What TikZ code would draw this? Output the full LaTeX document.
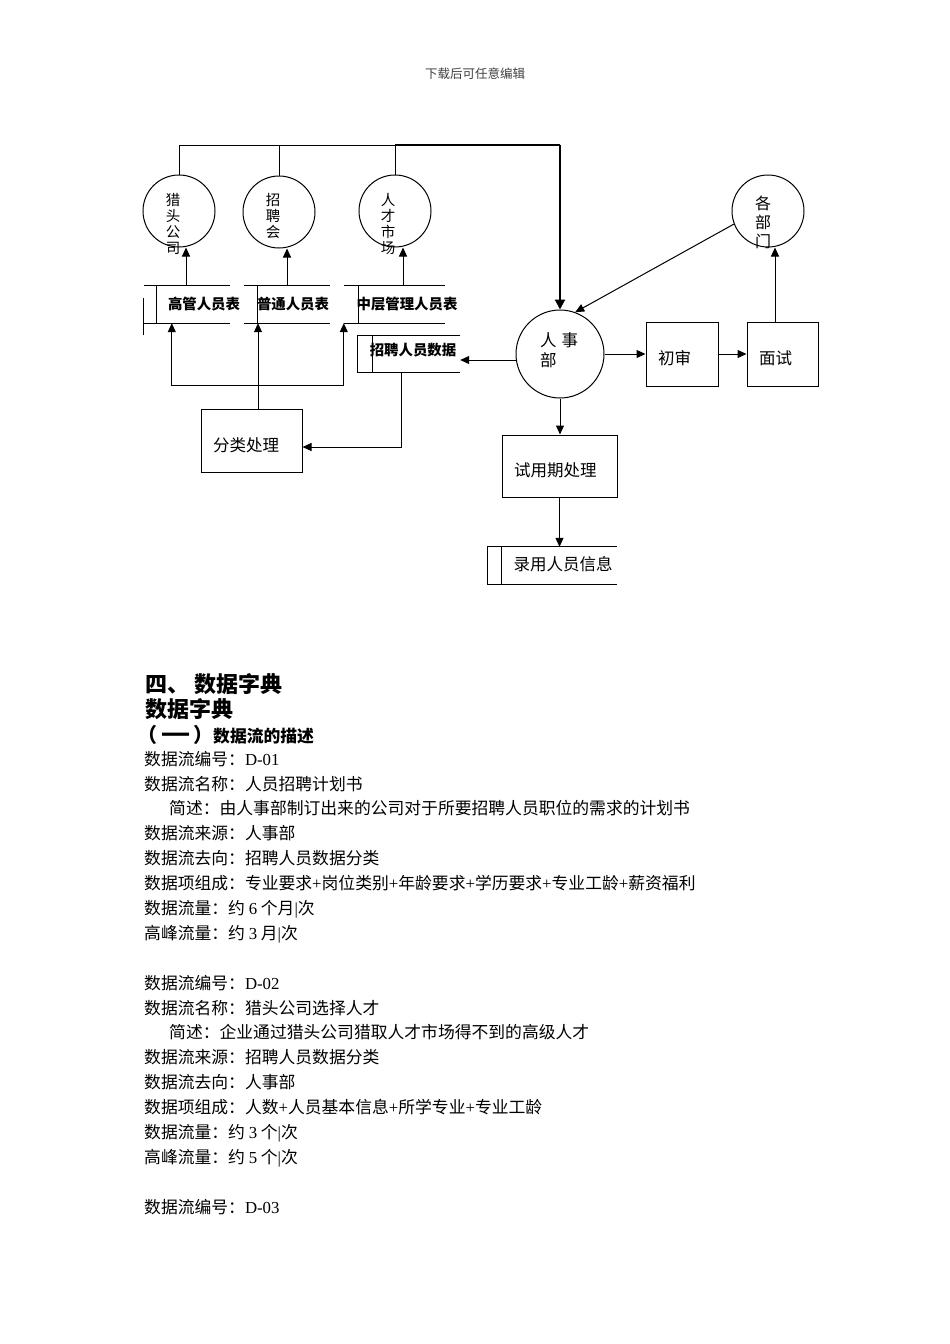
\documentclass[tikz,border=0pt]{standalone}
\usepackage{fontspec}
\usepackage{graphicx}
\setmainfont{Liberation Serif}
\newfontfamily\cjk{Noto Sans CJK SC}
\newfontfamily\tnr{Liberation Serif}
\newcommand\plusx{{\tnr +}}
\newcommand\numx[1]{{\tnr #1}}
\usetikzlibrary{arrows.meta,calc}
\begin{document}
\begin{tikzpicture}[x=1pt,y=-1pt,
  every node/.style={inner sep=0pt},
  ln/.style={line width=1pt, black},
  arr/.style={ln, -{Triangle[length=9pt,width=8pt]}},
  thk/.style={line width=2pt, black},
  circ/.style={circle, draw, line width=1pt, minimum size=72pt},
  ctext/.style={font=\cjk\fontsize{14.5}{16}\selectfont, align=center},
  proc/.style={draw, line width=1pt, rectangle, align=left, inner xsep=12pt, inner ysep=0pt,
    font=\cjk\fontsize{16.5}{20}\selectfont, text height=21pt, text depth=0pt},
  sbox/.style={rectangle, inner sep=0pt},
  stext/.style={font=\cjk\fontsize{14.4}{17}\selectfont},
  body/.style={anchor=west, font=\cjk\fontsize{16.8}{20}\selectfont, text height=14.8pt, text depth=2pt},
  head/.style={anchor=west, font=\cjk\bfseries\fontsize{22}{26}\selectfont, text height=19.4pt, text depth=2.6pt},
  subhead/.style={anchor=west, font=\cjk\bfseries\fontsize{16.8}{20}\selectfont, text height=14.8pt, text depth=2pt}
]
\fill[white] (0,0) rectangle (950,1344);
\useasboundingbox (0,0) rectangle (950,1344);

% header
\node[font=\cjk\fontsize{12.5}{15}\selectfont, text=black!75] (hdr) at (475,74) {下载后可任意编辑};

% circles
\node[circ] (lt) at (179,211) {};
\node[circ] (zph) at (279,212) {};
\node[circ] (rc) at (395,211) {};
\node[circ] (bm) at (768,211) {};
\node[circ, minimum size=88pt] (rs) at (560,354) {};
\node[ctext] (ltt) at (173,224) {猎\\头\\公\\司};
\node[ctext] (zpht) at (273,216) {招\\聘\\会};
\node[ctext] (rct) at (388,224) {人\\才\\市\\场};
\node[ctext, font=\cjk\fontsize{16}{19}\selectfont] (bmt) at (763,222) {各\\部\\门};
\node[anchor=west, align=left, font=\cjk\fontsize{16.5}{20}\selectfont] (rst) at (540,350) {人\hspace{5pt}事\\部};

% process boxes
\node[proc, text width=77pt, minimum height=63pt] (fl) at (251.5,440.5) {分类处理};
\node[proc, text width=48pt, minimum height=64pt] (cs) at (682,354) {初审};
\node[proc, text width=47pt, minimum height=64pt] (ms) at (782.5,354) {面试};
\node[proc, text width=91pt, minimum height=62pt] (sy) at (559.5,466) {试用期处理};

% data stores
\node[sbox, minimum width=86pt, minimum height=37pt] (gg) at (187,304.5) {};
\node[sbox, minimum width=86pt, minimum height=37pt] (pt) at (287,304.5) {};
\node[sbox, minimum width=101pt, minimum height=37pt] (zc) at (394.5,304.5) {};
\node[sbox, minimum width=102pt, minimum height=36pt] (zp) at (409,354) {};
\node[sbox, minimum width=129pt, minimum height=37pt] (ly) at (552.5,565.5) {};
\node[stext] (ggt) at (204,304) {\bfseries 高管人员表};
\node[stext] (ptt) at (293,304) {\bfseries 普通人员表};
\node[stext] (zct) at (407,304) {\bfseries 中层管理人员表};
\node[stext] (zpt) at (413,350) {\bfseries 招聘人员数据};
\node[stext, font=\cjk\fontsize{16.5}{20}\selectfont] (lyt) at (563,564) {录用人员信息};

\draw[ln] (gg.north west) -- (gg.north east) (gg.south west) -- (gg.south east)
  ($(gg.north west)+(13,0)$) -- ($(gg.south west)+(13,0)$)
  ($(gg.north west)+(0,12)$) -- ($(gg.south west)+(0,12)$);
\draw[ln] (pt.north west) -- (pt.north east) (pt.south west) -- (pt.south east)
  ($(pt.north west)+(14,0)$) -- ($(pt.south west)+(14,0)$);
\draw[ln] (zc.north west) -- (zc.north east) (zc.south west) -- (zc.south east)
  ($(zc.north west)+(15,0)$) -- ($(zc.south west)+(15,0)$);
\draw[ln] (zp.north east) -- (zp.north west) -- (zp.south west) -- (zp.south east)
  ($(zp.north west)+(15,0)$) -- ($(zp.south west)+(15,0)$);
\draw[ln] (ly.north east) -- (ly.north west) -- (ly.south west) -- (ly.south east)
  ($(ly.north west)+(14,0)$) -- ($(ly.south west)+(14,0)$);

% top bus
\coordinate (bus) at (560,145);
\draw[ln] (lt.north) |- (rc.north |- bus);
\draw[ln] (zph.north) -- (zph.north |- bus);
\draw[ln] (rc.north) -- (rc.north |- bus);
\draw[thk] (rc.north |- bus) -- (bus);
\draw[thk, -{Triangle[length=10pt,width=10pt]}] (bus) -- (rs.north);

% stores to circles
\coordinate (a1) at ($(lt.center)+(7,0)$);
\coordinate (a2) at ($(zph.center)+(8,0)$);
\coordinate (a3) at ($(rc.center)+(8,0)$);
\draw[arr] (a1 |- gg.north) -- (a1 |- lt.south);
\draw[arr] (a2 |- pt.north) -- (a2 |- zph.south);
\draw[arr] (a3 |- zc.north) -- (a3 |- rc.south);

% classification outputs
\coordinate (c1) at ($(fl.north)+(6.5,0)$);
\draw[arr] (c1) -- (c1 |- pt.south);
\coordinate (h1) at ($(gg.south west)+(28,62)$);
\draw[arr] (h1 -| zc.west) -| (h1 |- gg.south);
\draw[arr] (h1 -| zc.west) -- (zc.south west);

% recruitment data to classification
\coordinate (d1) at ($(zp.south west)+(44,0)$);
\coordinate (e1) at ($(fl.east)+(0,6.5)$);
\draw[arr] (d1) |- (e1);

% personnel dept to recruitment data
\coordinate (r1) at ($(rs.center)+(-43.6,6)$);
\draw[arr] (r1) -- (r1 -| zp.east);

% right part
\draw[arr] (bm.201) -- (rs.70);
\draw[arr] (rs.east) -- (cs.west);
\draw[arr] (cs.east) -- (ms.west);
\coordinate (m1) at ($(ms.north)+(-7.5,0)$);
\draw[arr] (m1) -- (m1 |- bm.south);
\draw[arr] (rs.south) -- (rs.south |- sy.north);
\draw[arr] (sy.south) -- (sy.south |- ly.north);

% text section
\node[head] (t1) at (145,684) {四、 数据字典};
\node[head] (t2) at (145,709) {数据字典};
\node[subhead] (t3) at (137,736) {{\fontsize{20}{22}\selectfont （\hspace{4pt}\scalebox{1.45}[1]{一}\hspace{3pt}）}数据流的描述};
\node[body] (t4) at (144,759) {数据流编号：\numx{D-01}};
\node[body] (t5) at (144,784) {数据流名称：人员招聘计划书};
\node[body] (t6) at (169,808) {简述：由人事部制订出来的公司对于所要招聘人员职位的需求的计划书};
\node[body] (t7) at (144,833) {数据流来源：人事部};
\node[body] (t8) at (144,858) {数据流去向：招聘人员数据分类};
\node[body] (t9) at (144,883) {数据项组成：专业要求\plusx 岗位类别\plusx 年龄要求\plusx 学历要求\plusx 专业工龄\plusx 薪资福利};
\node[body] (t10) at (144,908) {数据流量：约 \numx{6} 个月\numx{|}次};
\node[body] (t11) at (144,933) {高峰流量：约 \numx{3} 月\numx{|}次};
\node[body] (t12) at (144,983) {数据流编号：\numx{D-02}};
\node[body] (t13) at (144,1008) {数据流名称：猎头公司选择人才};
\node[body] (t14) at (169,1032) {简述：企业通过猎头公司猎取人才市场得不到的高级人才};
\node[body] (t15) at (144,1057) {数据流来源：招聘人员数据分类};
\node[body] (t16) at (144,1082) {数据流去向：人事部};
\node[body] (t17) at (144,1107) {数据项组成：人数\plusx 人员基本信息\plusx 所学专业\plusx 专业工龄};
\node[body] (t18) at (144,1132) {数据流量：约 \numx{3} 个\numx{|}次};
\node[body] (t19) at (144,1157) {高峰流量：约 \numx{5} 个\numx{|}次};
\node[body] (t20) at (144,1207) {数据流编号：\numx{D-03}};
\end{tikzpicture}
\end{document}
